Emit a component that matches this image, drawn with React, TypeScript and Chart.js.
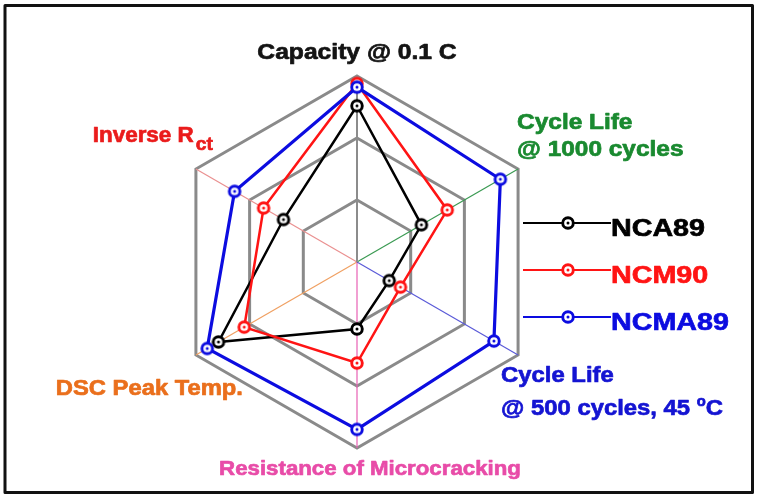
import React, { useEffect, useRef } from "react";
import { Chart, registerables } from "chart.js";

Chart.register(...registerables);

// ---- data ----
const axisLabels: string[][] = [
  ["Capacity @ 0.1 C"],
  ["Cycle Life", "@ 1000 cycles"],
  ["Cycle Life", "@ 500 cycles, 45 ^{o}C"],
  ["Resistance of Microcracking"],
  ["DSC Peak Temp."],
  ["Inverse R_{ct}"],
];
const axisLabelColors = ["#141414", "#1a8a30", "#1414d2", "#e84ca8", "#ea6f1c", "#ea1c1c"];
const angleLineColors = ["#8c8c8c", "#3a9a52", "#5a5ad8", "#e860b4", "#f0a062", "#ea9090"];

const seriesNames = ["NCA89", "NCM90", "NCMA89"];
const seriesColors = ["#000000", "#ff1414", "#0c0ce0"];
const nca89 = [2.52, 1.2, 0.6, 1.08, 2.58, 1.37];
const ncm90 = [2.88, 1.68, 0.81, 1.63, 2.1, 1.74];
const ncma89 = [2.82, 2.67, 2.55, 2.7, 2.79, 2.28];
const seriesValues = [nca89, ncm90, ncma89];

const scaleMin = 0;
const scaleMax = 3;
const gridStep = 1;

// ---- helpers ----
const FONT = '"Liberation Sans", Arial, sans-serif';

function makeMarker(color: string): HTMLCanvasElement {
  const c = document.createElement("canvas");
  c.width = 18;
  c.height = 18;
  const g = c.getContext("2d")!;
  g.beginPath();
  g.arc(9, 9, 5.3, 0, Math.PI * 2);
  g.fillStyle = "#ffffff";
  g.fill();
  g.lineWidth = 2.9;
  g.strokeStyle = color;
  g.stroke();
  g.beginPath();
  g.arc(9, 9, 1.5, 0, Math.PI * 2);
  g.fillStyle = color;
  g.fill();
  return c;
}

type Seg = { t: string; kind: "n" | "sub" | "sup" };
function parseRich(s: string): Seg[] {
  const out: Seg[] = [];
  const re = /([_^])\{([^}]*)\}/g;
  let last = 0;
  let m: RegExpExecArray | null;
  while ((m = re.exec(s))) {
    if (m.index > last) out.push({ t: s.slice(last, m.index), kind: "n" });
    out.push({ t: m[2], kind: m[1] === "_" ? "sub" : "sup" });
    last = m.index + m[0].length;
  }
  if (last < s.length) out.push({ t: s.slice(last), kind: "n" });
  return out;
}

function drawRich(
  ctx: CanvasRenderingContext2D,
  line: string,
  x: number,
  baseline: number,
  align: "left" | "right" | "center",
  size: number,
  sx: number,
  color: string
) {
  const segs = parseRich(line);
  const fontFor = (k: string) =>
    `bold ${k === "n" ? size : k === "sub" ? size * 0.86 : size * 0.62}px ${FONT}`;
  const widths = segs.map((sg) => {
    ctx.font = fontFor(sg.kind);
    return ctx.measureText(sg.t).width * sx + (sg.kind === "sub" ? 2 : 0);
  });
  const total = widths.reduce((a, b) => a + b, 0);
  let cx = align === "left" ? x : align === "right" ? x - total : x - total / 2;
  ctx.fillStyle = color;
  ctx.strokeStyle = color;
  ctx.lineWidth = 0.7;
  ctx.lineJoin = "round";
  ctx.textAlign = "left";
  ctx.textBaseline = "alphabetic";
  segs.forEach((sg, i) => {
    ctx.font = fontFor(sg.kind);
    const off = sg.kind === "sub" ? size * 0.36 : sg.kind === "sup" ? -size * 0.4 : 0;
    ctx.save();
    ctx.translate(cx + (sg.kind === "sub" ? 2 : 0), baseline + off);
    ctx.scale(sx, 1);
    ctx.fillText(sg.t, 0, 0);
    ctx.strokeText(sg.t, 0, 0);
    ctx.restore();
    cx += widths[i];
  });
}

// label placement relative to each axis' outer vertex
const labelLayout = [
  { dx: 0, dy: -17, align: "center", size: 22, sx: 1.12, lh: 0 },
  { dx: -1, dy: -40, align: "left", size: 22, sx: 1.11, lh: 27 },
  { dx: -17, dy: 27, align: "left", size: 22.5, sx: 1.06, lh: 33 },
  { dx: 13, dy: 27, align: "center", size: 21, sx: 1.06, lh: 0 },
  { dx: 47, dy: 40, align: "right", size: 22, sx: 1.08, lh: 0 },
  { dx: 17, dy: -27, align: "right", size: 22, sx: 1.02, lh: 0 },
] as const;

function makeDecorPlugin(markers: HTMLCanvasElement[]) {
  return {
    id: "decor",
    beforeDraw(chart: any) {
      const ctx = chart.ctx as CanvasRenderingContext2D;
      ctx.save();
      ctx.fillStyle = "#ffffff";
      ctx.fillRect(0, 0, chart.width, chart.height);
      ctx.restore();
    },
    afterDraw(chart: any) {
      const ctx = chart.ctx as CanvasRenderingContext2D;
      const scale = chart.scales.r;
      ctx.save();
      // axis labels
      axisLabels.forEach((lines, i) => {
        const p = scale.getPointPosition(i, scale.drawingArea);
        const L = labelLayout[i];
        lines.forEach((ln, j) => {
          drawRich(ctx, ln, p.x + L.dx, p.y + L.dy + j * L.lh, L.align as any, L.size, L.sx, axisLabelColors[i]);
        });
      });
      // legend
      const legX0 = 523;
      const legX1 = 611;
      const legMarkerX = 568;
      const legY0 = 223;
      const legStep = 47;
      seriesNames.forEach((name, i) => {
        const y = legY0 + i * legStep;
        ctx.strokeStyle = seriesColors[i];
        ctx.lineWidth = 2;
        ctx.beginPath();
        ctx.moveTo(legX0, y);
        ctx.lineTo(legX1, y);
        ctx.stroke();
        const mk = markers[i];
        ctx.drawImage(mk, legMarkerX - mk.width / 2, y - mk.height / 2);
        drawRich(ctx, name, legX1, y + 12.5, "left", 24.5, 1.17, seriesColors[i]);
      });
      // frame
      ctx.strokeStyle = "#111111";
      ctx.lineWidth = 3;
      ctx.strokeRect(5, 5.5, 747.5, 487);
      ctx.restore();
    },
  };
}

export default function App() {
  const ref = useRef<HTMLCanvasElement>(null);
  useEffect(() => {
    if (!ref.current) return;
    const markers = seriesColors.map(makeMarker);
    const chart = new Chart(ref.current, {
      type: "radar",
      data: {
        labels: axisLabels.map((l) => l.join(" ")),
        datasets: seriesNames.map((name, i) => ({
          label: name,
          data: seriesValues[i],
          borderColor: seriesColors[i],
          backgroundColor: "rgba(0,0,0,0)",
          fill: false,
          borderWidth: i === 2 ? 3.2 : 2.5,
          pointStyle: markers[i] as any,
          pointRadius: 6,
          pointHoverRadius: 6,
          tension: 0,
          order: 2 - i,
        })),
      },
      options: {
        responsive: false,
        animation: false,
        events: [],
        layout: { padding: { left: 171, right: 216, top: 76, bottom: 52 } },
        plugins: { legend: { display: false }, tooltip: { enabled: false }, title: { display: false } },
        scales: {
          r: {
            min: scaleMin,
            max: scaleMax,
            ticks: { display: false, stepSize: gridStep },
            grid: { color: "#8a8a8a", lineWidth: 3, circular: false },
            angleLines: {
              display: true,
              color: (c: any) => angleLineColors[c.index],
              lineWidth: (c: any) => (c.index === 0 ? 2 : 1.2),
            },
            pointLabels: { display: false },
          },
        },
      },
      plugins: [makeDecorPlugin(markers)],
    });
    return () => chart.destroy();
  }, []);
  return (
    <div style={{ position: "fixed", left: 0, top: 0, width: 759, height: 500, background: "#fff" }}>
      <canvas ref={ref} width={759} height={500} style={{ display: "block" }} />
    </div>
  );
}
